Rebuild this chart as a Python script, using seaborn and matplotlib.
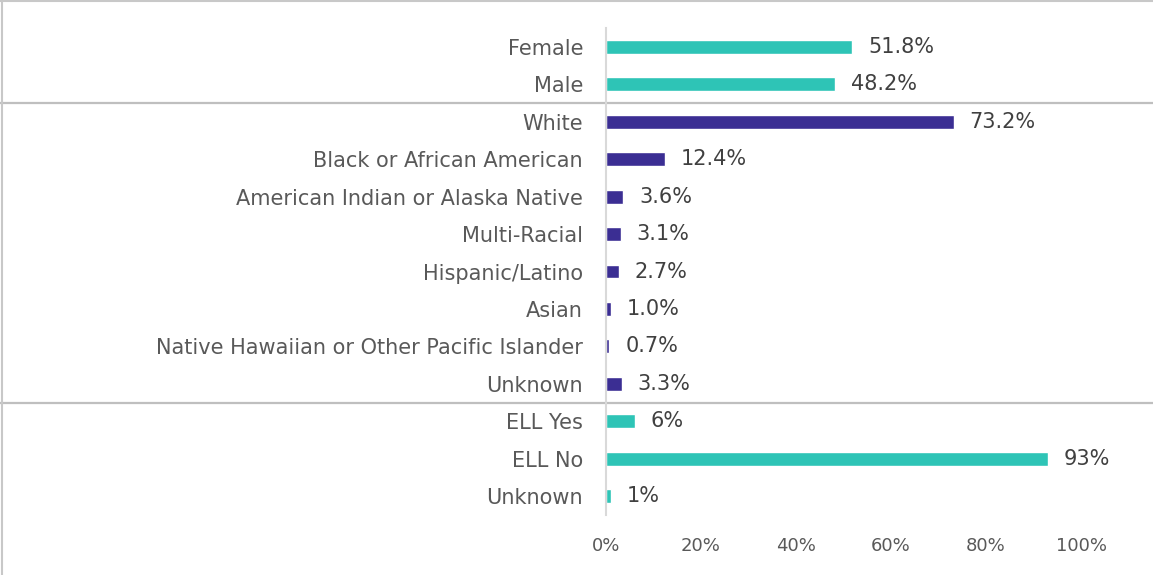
import matplotlib
matplotlib.use('Agg')
import matplotlib.pyplot as plt
import matplotlib.transforms as mtransforms
from matplotlib.lines import Line2D
import seaborn as sns
import pandas as pd

# chart data
categories = ['Female', 'Male', 'White', 'Black or African American',
              'American Indian or Alaska Native', 'Multi-Racial', 'Hispanic/Latino',
              'Asian', 'Native Hawaiian or Other Pacific Islander', 'Unknown',
              'ELL Yes', 'ELL No', 'Unknown']
values = [51.8, 48.2, 73.2, 12.4, 3.6, 3.1, 2.7, 1.0, 0.7, 3.3, 6, 93, 1]
value_labels = ['51.8%', '48.2%', '73.2%', '12.4%', '3.6%', '3.1%', '2.7%',
                '1.0%', '0.7%', '3.3%', '6%', '93%', '1%']
groups = ['Gender', 'Gender', 'Race', 'Race', 'Race', 'Race', 'Race', 'Race',
          'Race', 'Race', 'ELL', 'ELL', 'ELL']
x_ticks = [0, 20, 40, 60, 80, 100]

palette = {'Gender': '#2EC4B6', 'Race': '#3B2E93', 'ELL': '#2EC4B6'}

df = pd.DataFrame({'key': [f'{i}' for i in range(len(categories))],
                   'value': values, 'group': groups})

sns.set_style('white')
plt.rcParams['font.family'] = ['DejaVu Sans']

fig = plt.figure(figsize=(11.53, 5.75), dpi=100)
ax = fig.add_axes([606 / 1153, 1 - 515 / 575, (1081 - 606) / 1153, (515 - 28) / 575])

sns.barplot(data=df, y='key', x='value', hue='group', palette=palette,
            dodge=False, width=0.37, orient='h', legend=False, saturation=1, ax=ax)

ax.set_xlim(0, 100)
ax.set_ylim(len(categories) - 0.5, -0.5)
ax.set_xticks(x_ticks)
ax.set_xticklabels([f'{t}%' for t in x_ticks], color='#595959', fontsize=13)
ax.set_yticks(range(len(categories)))
ax.set_yticklabels(categories, color='#595959', fontsize=15)
ax.tick_params(axis='x', length=0, pad=16)
ax.tick_params(axis='y', length=0, pad=16.5)
ax.set_xlabel('')
ax.set_ylabel('')

for s in ['top', 'right', 'bottom']:
    ax.spines[s].set_visible(False)
ax.spines['left'].set_color('#D9D9D9')
ax.spines['left'].set_linewidth(1.5)

# value labels at the bar ends
for i, (v, lab) in enumerate(zip(values, value_labels)):
    ax.annotate(lab, (v, i), xytext=(11.5, 0), textcoords='offset points',
                va='center', ha='left', color='#404040', fontsize=15)

# group separators across the whole figure
trans = mtransforms.blended_transform_factory(fig.transFigure, ax.transData)
for y in [1.5, 9.5]:
    ax.add_line(Line2D([0, 1], [y, y], transform=trans, color='#BFBFBF',
                       linewidth=1.6, clip_on=False))

# frame around the chart (top and left visible)
fig.add_artist(Line2D([0, 1], [0.999, 0.999], color='#C8C8C8', linewidth=1.5))
fig.add_artist(Line2D([0.0015, 0.0015], [0, 1], color='#C8C8C8', linewidth=1.5))

fig.savefig('out.png', dpi=100, facecolor='white')
